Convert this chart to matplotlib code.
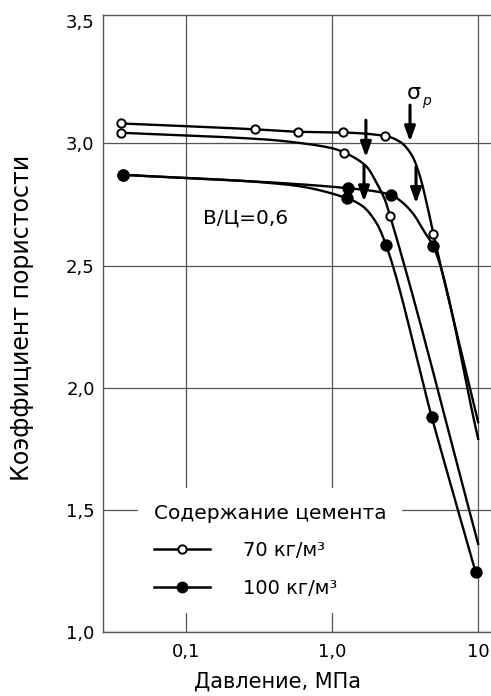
import numpy as np
import matplotlib
matplotlib.use("Agg")
import matplotlib.pyplot as plt
from matplotlib.lines import Line2D

plt.rcParams["font.family"] = ["DejaVu Sans"]

# Pressure (MPa) and void ratio along each compression curve.
# "marked" lists the indices that carry a measured-point symbol.
pressure_70_upper = [0.0354, 0.295, 0.579, 1.18, 2.30, 2.91, 3.51, 4.0, 4.44, 4.93, 10.0]
ratio_70_upper = [3.082, 3.058, 3.048, 3.045, 3.031, 3.007, 2.952, 2.864, 2.755, 2.631, 1.859]
marked_70_upper = [0, 1, 2, 3, 4, 9]

pressure_70_lower = [0.0354, 0.355, 0.60, 1.02, 1.21, 1.39, 1.72, 2.02, 2.30, 2.49, 10.0]
ratio_70_lower = [3.044, 3.016, 3.002, 2.979, 2.963, 2.945, 2.905, 2.837, 2.768, 2.703, 1.361]
marked_70_lower = [0, 4, 9]

pressure_100_upper = [0.0365, 1.28, 2.53, 2.91, 3.59, 4.21, 4.93, 10.0]
ratio_100_upper = [2.872, 2.817, 2.79, 2.767, 2.712, 2.645, 2.579, 1.791]
marked_100_upper = [0, 1, 2, 6]

pressure_100_lower = [0.0365, 0.5, 1.26, 1.6, 2.02, 2.34, 4.81, 9.62]
ratio_100_lower = [2.872, 2.831, 2.776, 2.745, 2.672, 2.583, 1.880, 1.244]
marked_100_lower = [0, 2, 5, 6, 7]

# Structural strength markers (sigma_p): pressure, arrow start and arrow tip
arrow_pressure = [3.41, 1.70, 1.65, 3.75]
arrow_top = [3.157, 3.095, 2.911, 2.904]
arrow_tip = [3.007, 2.943, 2.761, 2.754]

x_ticks = [0.1, 1.0, 10.0]
x_tick_labels = ["0,1", "1,0", "10"]
y_ticks = [1.0, 1.5, 2.0, 2.5, 3.0, 3.5]
y_tick_labels = ["1,0", "1,5", "2,0", "2,5", "3,0", "3,5"]
legend_labels = ["70 кг/м³", "100 кг/м³"]


def pchip(x, y, xn):
    """Monotone cubic Hermite curve through (x, y)."""
    x = np.asarray(x, float)
    y = np.asarray(y, float)
    h = np.diff(x)
    d = np.diff(y) / h
    m = np.zeros_like(y)
    m[0], m[-1] = d[0], d[-1]
    for k in range(1, len(x) - 1):
        if d[k - 1] * d[k] > 0:
            w1 = 2 * h[k] + h[k - 1]
            w2 = h[k] + 2 * h[k - 1]
            m[k] = (w1 + w2) / (w1 / d[k - 1] + w2 / d[k])
    idx = np.clip(np.searchsorted(x, xn) - 1, 0, len(x) - 2)
    t = (xn - x[idx]) / h[idx]
    h00 = 2 * t**3 - 3 * t**2 + 1
    h10 = t**3 - 2 * t**2 + t
    h01 = -2 * t**3 + 3 * t**2
    h11 = t**3 - t**2
    return h00 * y[idx] + h10 * h[idx] * m[idx] + h01 * y[idx + 1] + h11 * h[idx] * m[idx + 1]


fig = plt.figure(figsize=(4.91, 6.96), dpi=100)
ax = fig.add_axes([103 / 491, 64 / 696, 388 / 491, 617 / 696])
ax.set_xscale("log")
ax.set_xlim(0.02679, 12.25)
ax.set_ylim(1.0, 3.526)

series = [
    (pressure_70_upper, ratio_70_upper, marked_70_upper, "white", 6.0),
    (pressure_70_lower, ratio_70_lower, marked_70_lower, "white", 6.0),
    (pressure_100_upper, ratio_100_upper, marked_100_upper, "black", 7.5),
    (pressure_100_lower, ratio_100_lower, marked_100_lower, "black", 7.5),
]
for px, ry, marked, face, size in series:
    lx = np.log10(px)
    dense = np.linspace(lx[0], lx[-1], 400)
    ax.plot(10**dense, pchip(lx, ry, dense), color="black", lw=1.7, zorder=3)
    mx = [px[i] for i in marked]
    my = [ry[i] for i in marked]
    ax.plot(mx, my, "o", ms=size, mfc=face, mec="black", mew=1.4, zorder=4)

for xa, y0, y1 in zip(arrow_pressure, arrow_top, arrow_tip):
    ax.annotate("", xy=(xa, y1), xytext=(xa, y0),
                arrowprops=dict(arrowstyle="-|>,head_length=0.45,head_width=0.16",
                                mutation_scale=20, lw=2.2, color="black",
                                shrinkA=0, shrinkB=0), zorder=5)

ax.text(3.63, 3.206, "σ", fontsize=16, ha="center", va="center")
ax.text(4.39, 3.173, "p", fontsize=10, style="italic", ha="center", va="center")
ax.text(0.13, 2.694, "В/Ц=0,6", fontsize=14.5, ha="left", va="center")

ax.set_xticks(x_ticks)
ax.set_xticklabels(x_tick_labels)
ax.xaxis.set_minor_locator(matplotlib.ticker.NullLocator())
ax.set_yticks(y_ticks)
ax.set_yticklabels(y_tick_labels)
ax.tick_params(axis="both", length=0, labelsize=13, colors="black")
ax.tick_params(axis="y", pad=6)
ax.tick_params(axis="x", pad=8)
ax.grid(True, color="#555555", lw=0.9, zorder=1)
ax.get_ygridlines()[-1].set_visible(False)
ax.set_axisbelow(True)

for side in ("left", "top", "bottom"):
    ax.spines[side].set_color("#555555")
    ax.spines[side].set_linewidth(1.0)
ax.spines["right"].set_visible(False)

ax.set_xlabel("Давление, МПа", fontsize=15)
ax.xaxis.set_label_coords(0.451, -0.064)
ax.set_ylabel("Коэффициент пористости", fontsize=17)
ax.yaxis.set_label_coords(-0.178, 0.509)

handles = [
    Line2D([], [], color="black", lw=1.8, marker="o", ms=6.0, mfc="white", mec="black", mew=1.4),
    Line2D([], [], color="black", lw=1.8, marker="o", ms=7.5, mfc="black", mec="black"),
]
leg = ax.legend(handles, legend_labels, title="Содержание цемента",
                loc="center", bbox_to_anchor=(0.430, 0.132),
                frameon=True, facecolor="white", edgecolor="none", framealpha=1,
                fancybox=False, fontsize=14, title_fontsize=14.5,
                handlelength=2.9, handletextpad=1.7, labelspacing=0.95,
                borderpad=0.8, alignment="left")
leg.set_zorder(6)

fig.savefig("out.png", dpi=100)
